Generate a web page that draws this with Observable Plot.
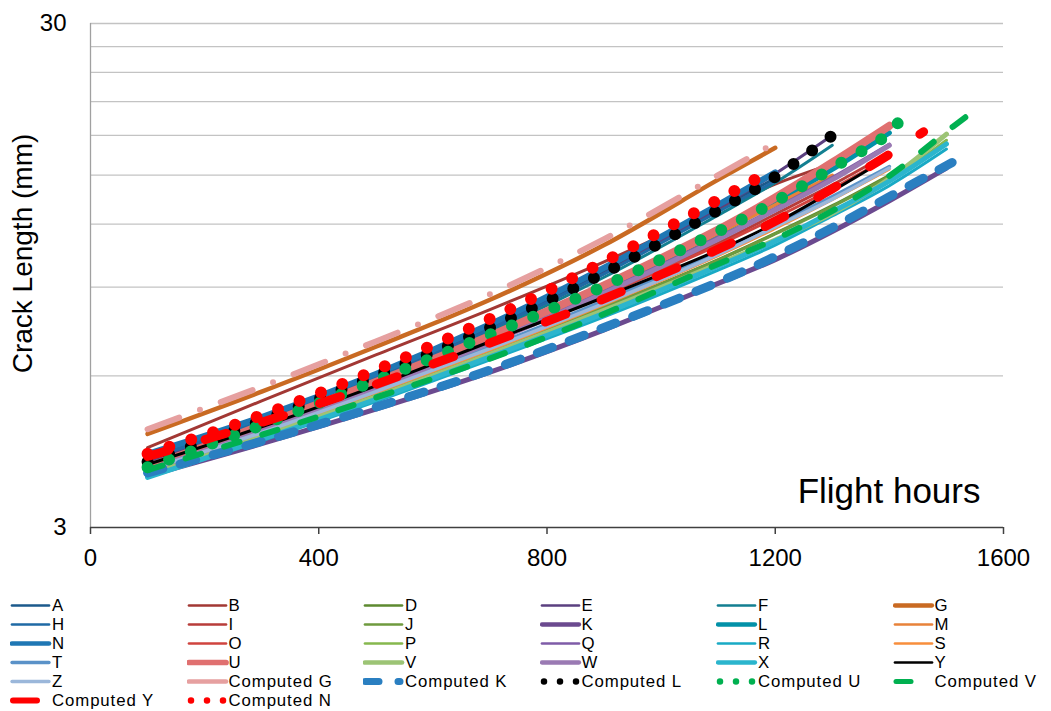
<!DOCTYPE html>
<html><head><meta charset="utf-8">
<script src="https://cdn.jsdelivr.net/npm/d3@7"></script>
<script src="https://cdn.jsdelivr.net/npm/@observablehq/plot@0.6"></script>
<style>
body{margin:0;background:#fff;font-family:"Liberation Sans",Arial,sans-serif;}
#chart svg{display:block}
#legend{display:grid;grid-template-columns:repeat(6,176.5px);margin-left:10px;margin-top:5.5px;}
.item{display:flex;align-items:center;height:19px;font-size:16.8px;letter-spacing:0.9px;color:#000;white-space:nowrap;line-height:19px}
.item svg{flex:none;display:block}
</style></head><body><div id="chart"></div><div id="legend"></div>
<script>
// ---- data ----
const xTickLabels = [0, 400, 800, 1200, 1600];
const yTickLabels = [3, 30];
const gridValues = [6, 9, 12, 15, 18, 21, 24, 27, 30];
const hours = [100, 300, 500, 700, 900, 1100, 1200, 1300, 1400, 1500];

const A = [4.15, 4.92, 5.99, 7.50, 9.68, 12.85, 14.8];
const B = [4.32, 5.35, 6.60, 8.12, 10.1, 12.8, 14.4, 15.8];
const D = [3.85, 4.58, 5.51, 6.70, 8.22, 10.2, 11.5, 13.05, 15.0];
const E = [4.05, 4.85, 5.93, 7.42, 9.57, 12.9, 15.1, 18.0];
const F = [4.0, 4.8, 5.87, 7.33, 9.41, 12.5, 14.5, 17.2];
const G = [4.6, 5.58, 6.85, 8.49, 10.9, 14.7, 17.0];
const H = [4.1, 4.87, 5.92, 7.42, 9.56, 12.7, 14.6];
const I = [3.95, 4.71, 5.71, 7.03, 8.74, 11.0, 12.55, 14.35, 16.6];
const J = [3.85, 4.57, 5.50, 6.68, 8.20, 10.18, 11.47, 13.0, 14.9];
const K = [3.8, 4.4, 5.15, 6.1, 7.4, 9.15, 10.2, 11.6, 13.35, 15.5];
const L = [3.95, 4.75, 5.77, 7.12, 8.98, 11.5, 13.25, 15.4, 18.2];
const M = [3.95, 4.75, 5.77, 7.12, 8.95, 11.5, 13.1, 15.0];
const N = [4.2, 4.97, 6.05, 7.59, 9.83, 13.1, 15.2];
const O = [3.95, 4.70, 5.68, 6.98, 8.68, 10.9, 12.35, 14.1, 16.3];
const P = [3.85, 4.53, 5.42, 6.58, 8.03, 9.95, 11.1, 12.55, 14.6, 17.6];
const Q = [3.95, 4.71, 5.71, 7.03, 8.83, 11.3, 12.9, 14.85, 17.3];
const R = [3.77, 4.46, 5.33, 6.45, 7.85, 9.72, 10.9, 12.45, 14.3, 16.9];
const S = [3.9, 4.6, 5.55, 6.74, 8.3, 10.38, 11.75, 13.4, 15.4];
const T = [3.92, 4.66, 5.62, 6.85, 8.45, 10.55, 11.95, 13.6, 15.6];
const U = [3.95, 4.78, 5.83, 7.2, 9.07, 11.7, 13.55, 15.9, 18.8];
const V = [3.85, 4.55, 5.45, 6.62, 8.09, 10.0, 11.15, 12.6, 14.75, 18.1];
const W = [3.9, 4.66, 5.66, 6.98, 8.75, 11.2, 12.8, 14.7, 17.2];
const X = [3.77, 4.49, 5.39, 6.54, 7.98, 9.9, 11.1, 12.7, 14.6, 17.3];
const Y = [4.0, 4.75, 5.73, 7.01, 8.59, 10.65, 12.05, 13.95, 16.3];
const Z = [3.9, 4.63, 5.58, 6.79, 8.35, 10.45, 11.85, 13.45, 15.5];

const compGHours = [100, 300, 500, 700, 900, 1100, 1200];
const compG = [4.7, 5.71, 7.02, 8.71, 11.2, 15.0, 17.4];
const compKHours = [100, 300, 500, 700, 900, 1100, 1200, 1300, 1400, 1510];
const compK = [3.85, 4.45, 5.2, 6.16, 7.48, 9.2, 10.35, 11.8, 13.6, 15.9];
const compLHours = [100, 300, 500, 700, 900, 1100, 1200, 1300];
const compL = [4.05, 4.89, 6.0, 7.48, 9.6, 12.8, 14.9, 18.0];
const compUHours = [100, 300, 500, 700, 900, 1100, 1200, 1300, 1400, 1425];
const compU = [3.95, 4.79, 5.87, 7.24, 9.04, 11.6, 13.3, 15.5, 18.2, 19.8];
const compVHours = [100, 300, 500, 700, 900, 1100, 1200, 1300, 1400, 1500, 1537];
const compV = [3.9, 4.58, 5.43, 6.49, 7.96, 10.0, 11.2, 12.75, 14.95, 18.3, 19.7];
const compYHours = [100, 300, 500, 700, 900, 1100, 1200, 1300, 1400, 1460];
const compY = [4.15, 4.85, 5.77, 6.97, 8.53, 10.7, 12.15, 14.1, 16.5, 18.3];
const compNHours = [100, 300, 500, 700, 900, 1100, 1165];
const compN = [4.2, 5.01, 6.16, 7.78, 10.1, 13.4, 14.7];

// series table (legend / drawing order)
const seriesTable = [
  ["A", hours, A], ["B", hours, B], ["D", hours, D], ["E", hours, E], ["F", hours, F], ["G", hours, G],
  ["H", hours, H], ["I", hours, I], ["J", hours, J], ["K", hours, K], ["L", hours, L], ["M", hours, M],
  ["N", hours, N], ["O", hours, O], ["P", hours, P], ["Q", hours, Q], ["R", hours, R], ["S", hours, S],
  ["T", hours, T], ["U", hours, U], ["V", hours, V], ["W", hours, W], ["X", hours, X], ["Y", hours, Y],
  ["Z", hours, Z], ["Computed G", compGHours, compG], ["Computed K", compKHours, compK],
  ["Computed L", compLHours, compL], ["Computed U", compUHours, compU], ["Computed V", compVHours, compV],
  ["Computed Y", compYHours, compY], ["Computed N", compNHours, compN]
];

// ---- styles ----
const styles = {
  "A": {c: "#1c5a8c", w: 3, lw: 2.7},
  "B": {c: "#a23834", w: 3, lw: 2.7},
  "D": {c: "#5e8a30", w: 3, lw: 2.7},
  "E": {c: "#5b4080", w: 3, lw: 2.7},
  "F": {c: "#137f91", w: 3, lw: 2.7},
  "G": {c: "#c96a22", w: 4.5, lw: 4.3},
  "H": {c: "#1f6aa5", w: 3, lw: 2.7},
  "I": {c: "#b83d3a", w: 3, lw: 2.7},
  "J": {c: "#6f9b3e", w: 3, lw: 2.7},
  "K": {c: "#6b4a8f", w: 5, lw: 4.3},
  "L": {c: "#0291a8", w: 5, lw: 4.3},
  "M": {c: "#e8823a", w: 3.5, lw: 2.7},
  "N": {c: "#1f77b4", w: 6, lw: 4.7},
  "O": {c: "#d0443f", w: 3, lw: 2.7},
  "P": {c: "#86b84e", w: 3, lw: 2.7},
  "Q": {c: "#7f5ca8", w: 3, lw: 2.7},
  "R": {c: "#19aac5", w: 3, lw: 2.7},
  "S": {c: "#f88e3c", w: 2.5, lw: 2.7},
  "T": {c: "#5a92c8", w: 3.5, lw: 3.3},
  "U": {c: "#e07070", w: 8, lw: 5.7},
  "V": {c: "#9cc475", w: 5, lw: 4.7},
  "W": {c: "#9a7ab3", w: 5, lw: 4.3},
  "X": {c: "#2bb5cd", w: 5, lw: 4.3},
  "Y": {c: "#000000", w: 3, lw: 2.7},
  "Z": {c: "#9bb7da", w: 3.5, lw: 3.3},
  "Computed G": {c: "#e6a0a0", w: 6, dash: "34,22,0,22", lw: 4.7},
  "Computed K": {c: "#2a7fc1", w: 9, dash: "16,18", lw: 7, lx1: 2, lx2: 37, ldash: "14,19"},
  "Computed L": {c: "#000000", w: 12, dash: "0,23", lw: 6.5, lx1: 4, lx2: 36.5, ldash: "0,16"},
  "Computed U": {c: "#00b050", w: 12, dash: "0,23", lw: 6.5, lx1: 4, lx2: 36.5, ldash: "0,16"},
  "Computed V": {c: "#00b050", w: 6, dash: "16,24", lw: 5, lx1: 3, lx2: 18},
  "Computed Y": {c: "#ff0000", w: 9, dash: "22,38", lw: 6, lx1: 3, lx2: 27},
  "Computed N": {c: "#ff0000", w: 12, dash: "0,23", lw: 6.5, lx1: 4, lx2: 36.5, ldash: "0,16"}
};

const font = "Liberation Sans, Arial, sans-serif";

const lineMarks = seriesTable.map(([name, hrs, vals]) => {
  const s = styles[name];
  return Plot.line(d3.zip(hrs, vals), {
    x: d => d[0], y: d => d[1],
    stroke: s.c, strokeWidth: s.w,
    strokeDasharray: s.dash, strokeLinecap: "round", strokeLinejoin: "round",
    curve: "catmull-rom"
  });
});

const chart = Plot.plot({
  width: 1051, height: 590,
  marginLeft: 90, marginRight: 48, marginTop: 23, marginBottom: 63,
  style: {fontFamily: font, color: "black", background: "white"},
  x: {domain: [xTickLabels[0], xTickLabels[xTickLabels.length - 1]]},
  y: {type: "log", domain: [yTickLabels[0], yTickLabels[1]]},
  marks: [
    Plot.ruleY(gridValues, {stroke: "#c3c3c3", strokeWidth: 1.3}),
    Plot.ruleX([xTickLabels[0]], {stroke: "#a0a0a0", strokeWidth: 1.3}),
    ...lineMarks,
    Plot.ruleY([yTickLabels[0]], {stroke: "#404040", strokeWidth: 1.5}),
    Plot.axisX({ticks: xTickLabels, tickSize: 7, tickPadding: 14, fontSize: 24, stroke: "#404040", strokeWidth: 1.5, label: null, tickFormat: d => String(d)}),
    Plot.axisY({ticks: yTickLabels, tickSize: 0, tickPadding: 24, fontSize: 24, label: null, tickFormat: d => String(d)}),
    Plot.text(["Flight hours"], {frameAnchor: "bottom-right", textAnchor: "end", lineAnchor: "middle", dx: -23, dy: -36, fontSize: 35, fill: "black"}),
    Plot.text(["Crack Length (mm)"], {frameAnchor: "left", textAnchor: "middle", lineAnchor: "middle", rotate: -90, dx: -67, dy: -22, fontSize: 28, fill: "black"})
  ]
});
document.getElementById("chart").appendChild(chart);

// ---- legend ----
const legend = d3.select("#legend");
seriesTable.forEach(([name]) => {
  const s = styles[name];
  const item = legend.append("div").attr("class", "item");
  const sv = item.append("svg").attr("width", 42).attr("height", 19);
  sv.append("line")
    .attr("x1", s.lx1 ?? 2).attr("x2", s.lx2 ?? 39)
    .attr("y1", 9.5).attr("y2", 9.5)
    .attr("stroke", s.c).attr("stroke-width", s.lw)
    .attr("stroke-linecap", "round")
    .attr("stroke-dasharray", s.ldash ?? null);
  item.append("span").text(name);
});
</script></body></html>
